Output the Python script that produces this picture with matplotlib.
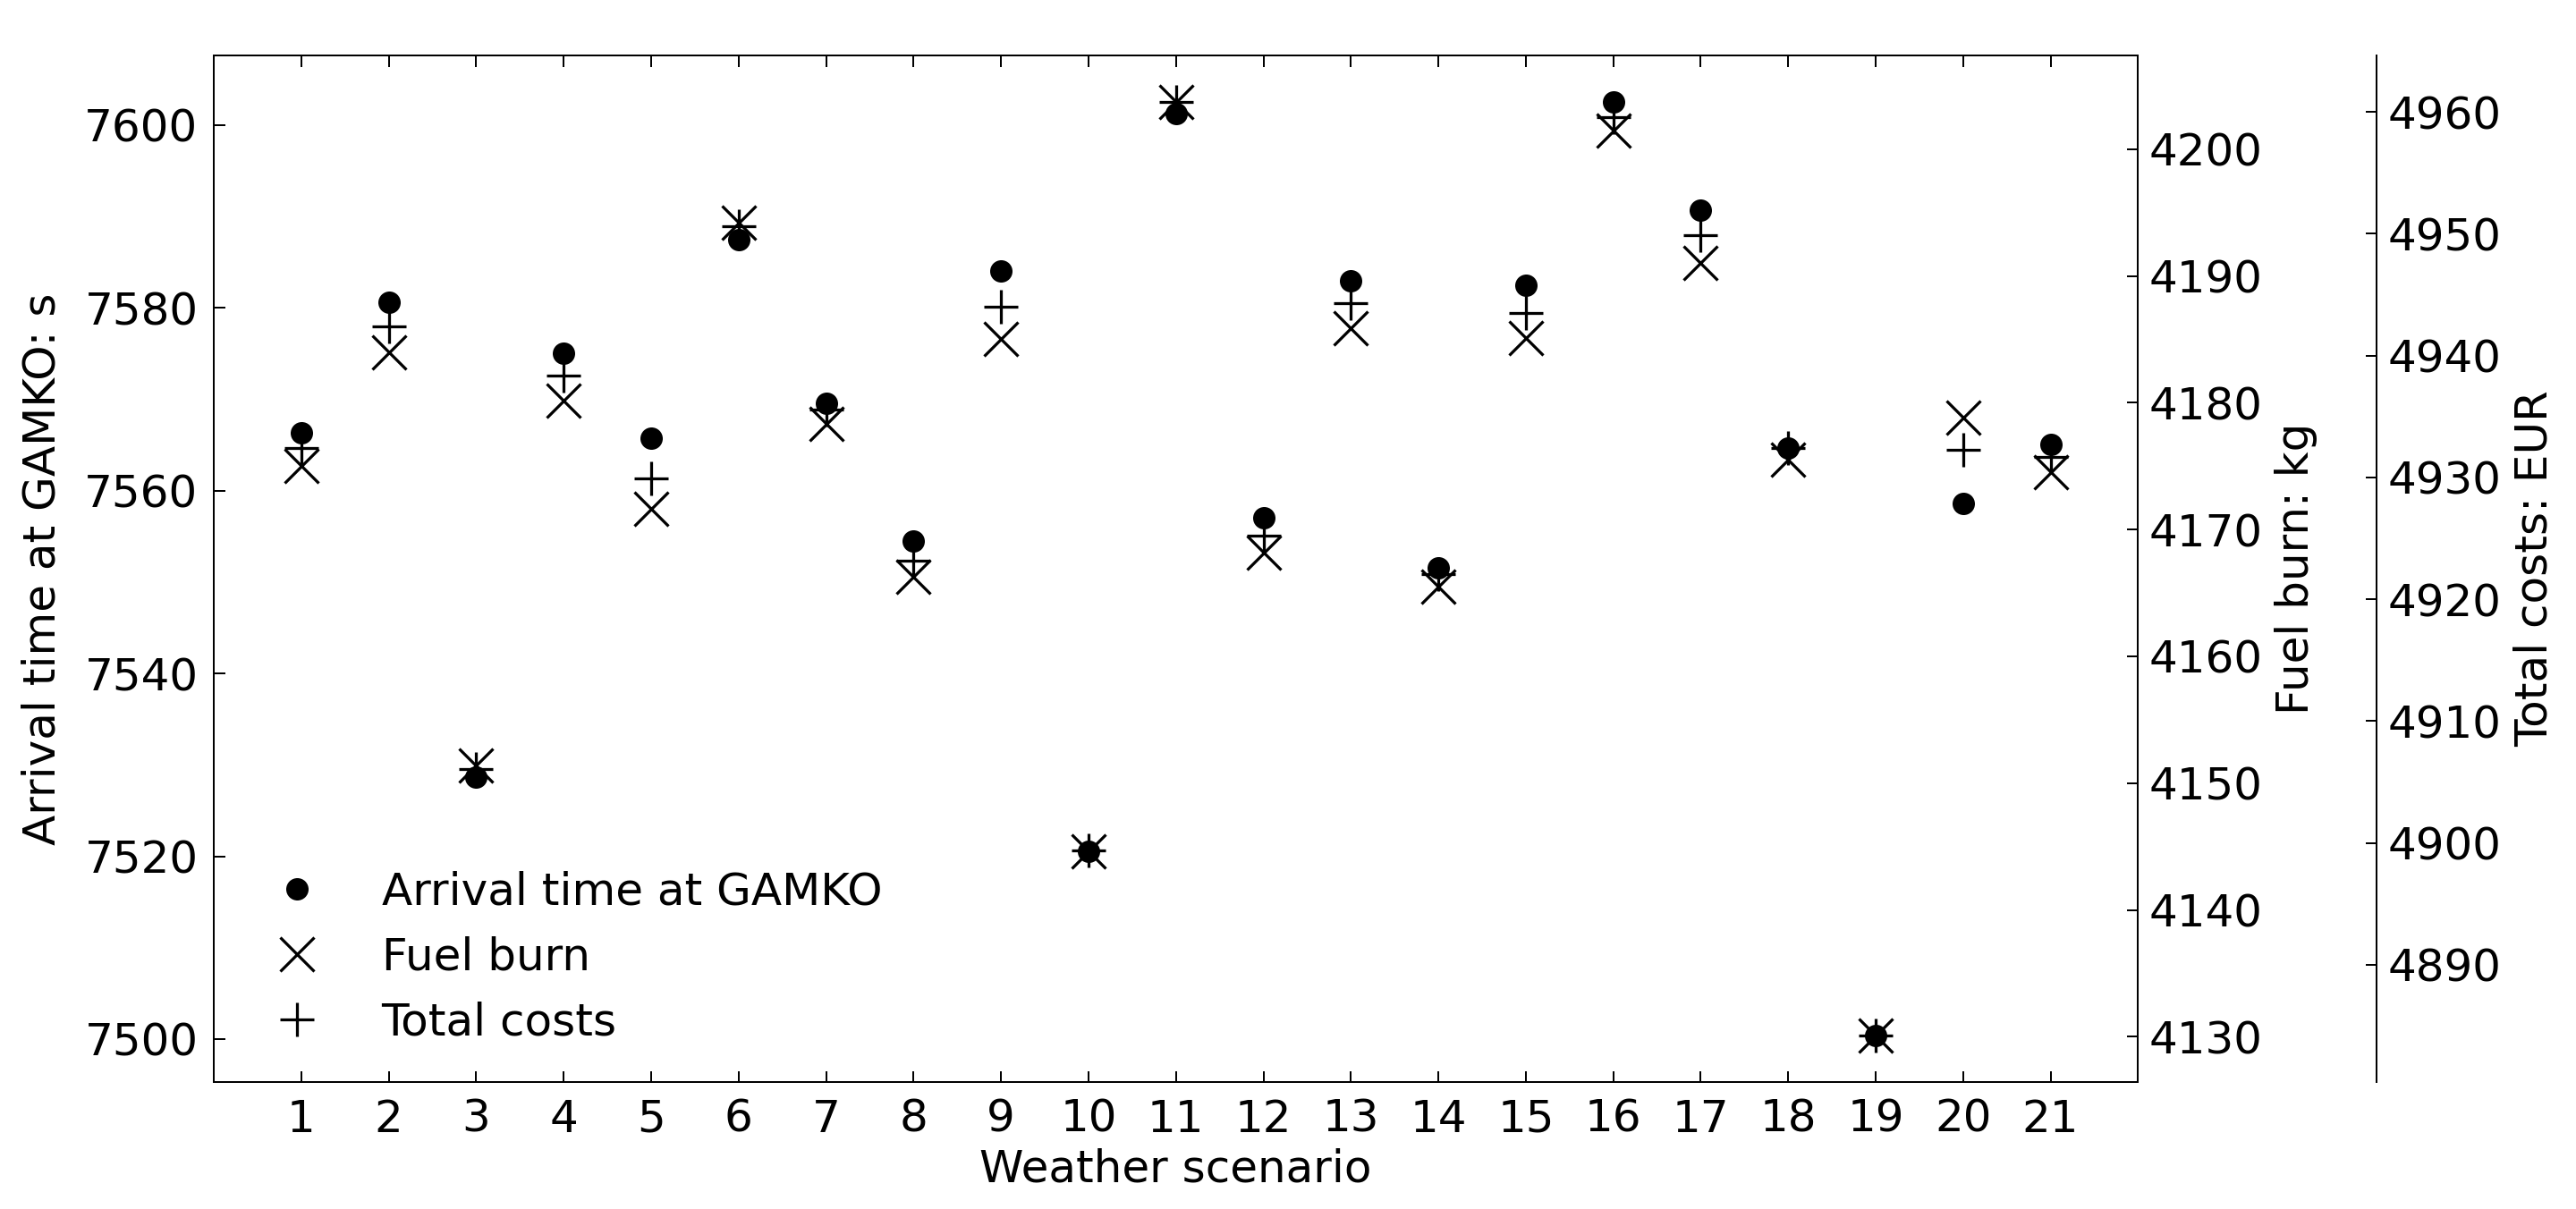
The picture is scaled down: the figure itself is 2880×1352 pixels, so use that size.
import matplotlib
matplotlib.use("Agg")
import matplotlib.pyplot as plt

scenarios = list(range(1, 22))

arrival = [7566.3, 7580.6, 7528.7, 7575.0, 7565.7, 7587.5, 7569.6, 7554.5, 7584.0, 7520.5,
           7601.3, 7557.0, 7583.0, 7551.6, 7582.5, 7602.5, 7590.7, 7564.7, 7500.4, 7558.6, 7565.1]

fuel = [4175.0, 4184.0, 4151.4, 4180.2, 4171.6, 4194.2, 4178.3, 4166.3, 4185.0, 4144.6,
        4203.7, 4168.2, 4185.9, 4165.5, 4185.1, 4201.5, 4191.0, 4175.5, 4130.1, 4178.8, 4174.5]

costs = [4932.4, 4942.4, 4906.1, 4938.4, 4929.9, 4950.6, 4935.6, 4923.2, 4944.0, 4899.4,
         4960.8, 4925.2, 4944.3, 4922.1, 4943.5, 4959.6, 4949.9, 4932.4, 4884.2, 4932.3, 4931.7]

arrival_ticks = [7500, 7520, 7540, 7560, 7580, 7600]
fuel_ticks = [4130, 4140, 4150, 4160, 4170, 4180, 4190, 4200]
costs_ticks = [4890, 4900, 4910, 4920, 4930, 4940, 4950, 4960]

FS = 20


def grafico():
    fig, ax = plt.subplots(figsize=(16, 1352 / 180), dpi=180)
    fig.subplots_adjust(left=0.083, right=0.830, top=0.954, bottom=0.105)

    ax2 = ax.twinx()
    ax3 = ax.twinx()
    ax3.spines["right"].set_position(("axes", 1.124))
    for s in ["left", "top", "bottom"]:
        ax3.spines[s].set_visible(False)

    h1, = ax.plot(scenarios, arrival, "o", color="k", ms=9,
                  label="Arrival time at GAMKO")
    h2, = ax2.plot(scenarios, fuel, "x", color="k", ms=15, mew=1.3,
                   label="Fuel burn")
    h3, = ax3.plot(scenarios, costs, "+", color="k", ms=15, mew=1.3,
                   label="Total costs")

    ax.set_xlim(0, 22)
    ax.set_xticks(scenarios)
    ax.set_yticks(arrival_ticks)
    ax2.set_yticks(fuel_ticks)
    ax3.set_yticks(costs_ticks)

    ax.tick_params(axis="x", direction="in", top=True, length=5, labelsize=FS, pad=7)
    ax.tick_params(axis="y", direction="in", left=True, right=False, length=5,
                   labelsize=FS, pad=7)
    ax2.tick_params(axis="y", direction="in", length=5, labelsize=FS, pad=5)
    ax3.tick_params(axis="y", direction="in", length=5, labelsize=FS, pad=5)

    ax.set_xlabel("Weather scenario", fontsize=FS, labelpad=3)
    ax.set_ylabel("Arrival time at GAMKO: s", fontsize=FS, labelpad=9)
    ax2.set_ylabel("Fuel burn: kg", fontsize=FS, labelpad=5)
    ax3.set_ylabel("Total costs: EUR", fontsize=FS, labelpad=5)

    ax.legend(handles=[h1, h2, h3], loc="lower left", frameon=False,
              fontsize=FS, numpoints=1, handletextpad=0.9, labelspacing=0.5,
              borderaxespad=0.45)

    fig.savefig("out.png", dpi=180)


def main():
    grafico()


if __name__ == "__main__":
    main()
